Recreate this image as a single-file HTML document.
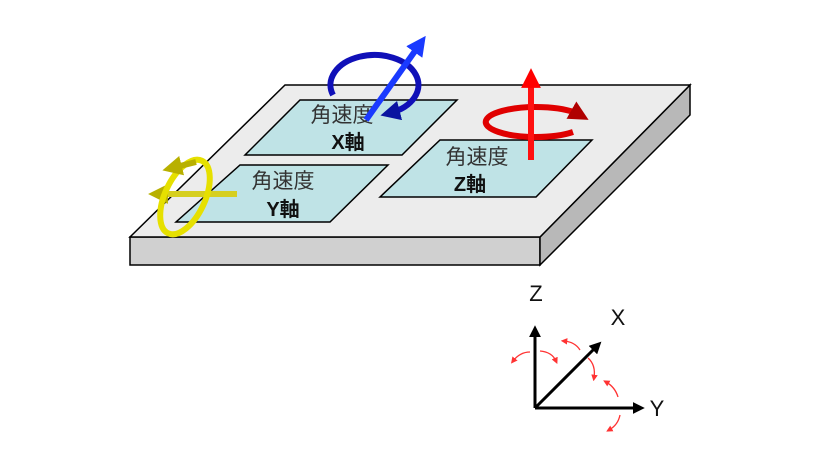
<!DOCTYPE html>
<html><head><meta charset="utf-8"><style>
html,body{margin:0;padding:0;background:#fff;width:820px;height:460px;overflow:hidden}
svg{display:block}
text{font-family:"Liberation Sans","Noto Sans CJK JP",sans-serif}
</style></head><body>
<svg width="820" height="460" viewBox="0 0 820 460">
<defs>
<marker id="ab" viewBox="0 0 10 10" refX="5" refY="5" markerWidth="3.3" markerHeight="3.3" orient="auto"><path d="M0,0L10,5L0,10z" fill="#1a3aff"/></marker>
<marker id="abd" viewBox="0 0 10 10" refX="5" refY="5" markerWidth="3.3" markerHeight="3.3" orient="auto"><path d="M0,0L10,5L0,10z" fill="#0a14a0"/></marker>
<marker id="ar" viewBox="0 0 10 10" refX="5" refY="5" markerWidth="3.3" markerHeight="3.3" orient="auto"><path d="M0,0L10,5L0,10z" fill="#ff0000"/></marker>
<marker id="ard" viewBox="0 0 10 10" refX="5" refY="5" markerWidth="3.3" markerHeight="3.3" orient="auto"><path d="M0,0L10,5L0,10z" fill="#b00000"/></marker>
<marker id="ay" viewBox="0 0 10 10" refX="5" refY="5" markerWidth="3.3" markerHeight="3.3" orient="auto"><path d="M0,0L10,5L0,10z" fill="#b8b000"/></marker>
<marker id="ak" viewBox="0 0 10 10" refX="6" refY="5" markerWidth="4" markerHeight="4" orient="auto"><path d="M0,0L10,5L0,10z" fill="#000"/></marker>
<marker id="am" viewBox="0 0 10 10" refX="5" refY="5" markerWidth="5" markerHeight="5" orient="auto"><path d="M0,0L10,5L0,10z" fill="#f33"/></marker>
</defs>
<polygon points="130,237 540,237 540,265 130,265" fill="#d0d0d0" stroke="#000" stroke-width="1.5"/>
<polygon points="540,237 690,85 690,115 540,265" fill="#b8b8b8" stroke="#000" stroke-width="1.5"/>
<polygon points="285,85 690,85 540,237 130,237" fill="#ececec" stroke="#000" stroke-width="1.5"/>
<polygon points="300,100 457,100 402,155 245,155" fill="#bfe3e6" stroke="#000" stroke-width="1.5"/>
<polygon points="240,165 388,165 330,222 176,222" fill="#bfe3e6" stroke="#000" stroke-width="1.5"/>
<polygon points="440,140 592,140 536,197 380,197" fill="#bfe3e6" stroke="#000" stroke-width="1.5"/>
<g font-size="21" fill="#333" text-anchor="middle">
<text x="342" y="122">角速度</text>
<text x="283" y="188">角速度</text>
<text x="477" y="164">角速度</text>
</g>
<g font-size="20" font-weight="bold" fill="#111" text-anchor="middle">
<text x="348" y="149">X軸</text>
<text x="283" y="216">Y軸</text>
<text x="470" y="191">Z軸</text>
</g>
<path d="M333,95 A44,30 0 1 1 390,113" fill="none" stroke="#1010b8" stroke-width="6" marker-end="url(#abd)"/>
<line x1="366" y1="120" x2="420" y2="44" stroke="#1a3aff" stroke-width="6" marker-end="url(#ab)"/>
<path d="M573,132 A50,15 0 1 1 580,115" fill="none" stroke="#e00000" stroke-width="6" marker-end="url(#ard)"/>
<line x1="531" y1="160" x2="531" y2="78" stroke="#ff1010" stroke-width="6" marker-end="url(#ar)"/>
<line x1="237" y1="194" x2="158" y2="194" stroke="#d6cf20" stroke-width="6" marker-end="url(#ay)"/>
<ellipse cx="185" cy="197" rx="20" ry="40" transform="rotate(25 185 197)" fill="none" stroke="#e6e000" stroke-width="6"/>
<path d="M196,162 L172,168" stroke="#b8b000" stroke-width="6" marker-end="url(#ay)"/>
<line x1="535" y1="408" x2="535" y2="330" stroke="#000" stroke-width="3" marker-end="url(#ak)"/>
<line x1="535" y1="408" x2="640" y2="408" stroke="#000" stroke-width="3" marker-end="url(#ak)"/>
<line x1="535" y1="408" x2="598" y2="345" stroke="#000" stroke-width="3" marker-end="url(#ak)"/>
<g font-size="22" fill="#111" text-anchor="middle">
<text x="536" y="301">Z</text>
<text x="618" y="325">X</text>
<text x="657" y="416">Y</text>
</g>
<g fill="none" stroke="#f33" stroke-width="1.3">
<path d="M530,352 Q520,352 513,361" marker-end="url(#am)"/>
<path d="M540,351 Q552,352 556,361" marker-end="url(#am)"/>
<path d="M580,350 Q575,342 564,341" marker-end="url(#am)"/>
<path d="M588,358 Q596,365 594,378" marker-end="url(#am)"/>
<path d="M618,397 Q615,387 606,382" marker-end="url(#am)"/>
<path d="M620,415 Q618,425 609,430" marker-end="url(#am)"/>
</g>
</svg>
</body></html>
